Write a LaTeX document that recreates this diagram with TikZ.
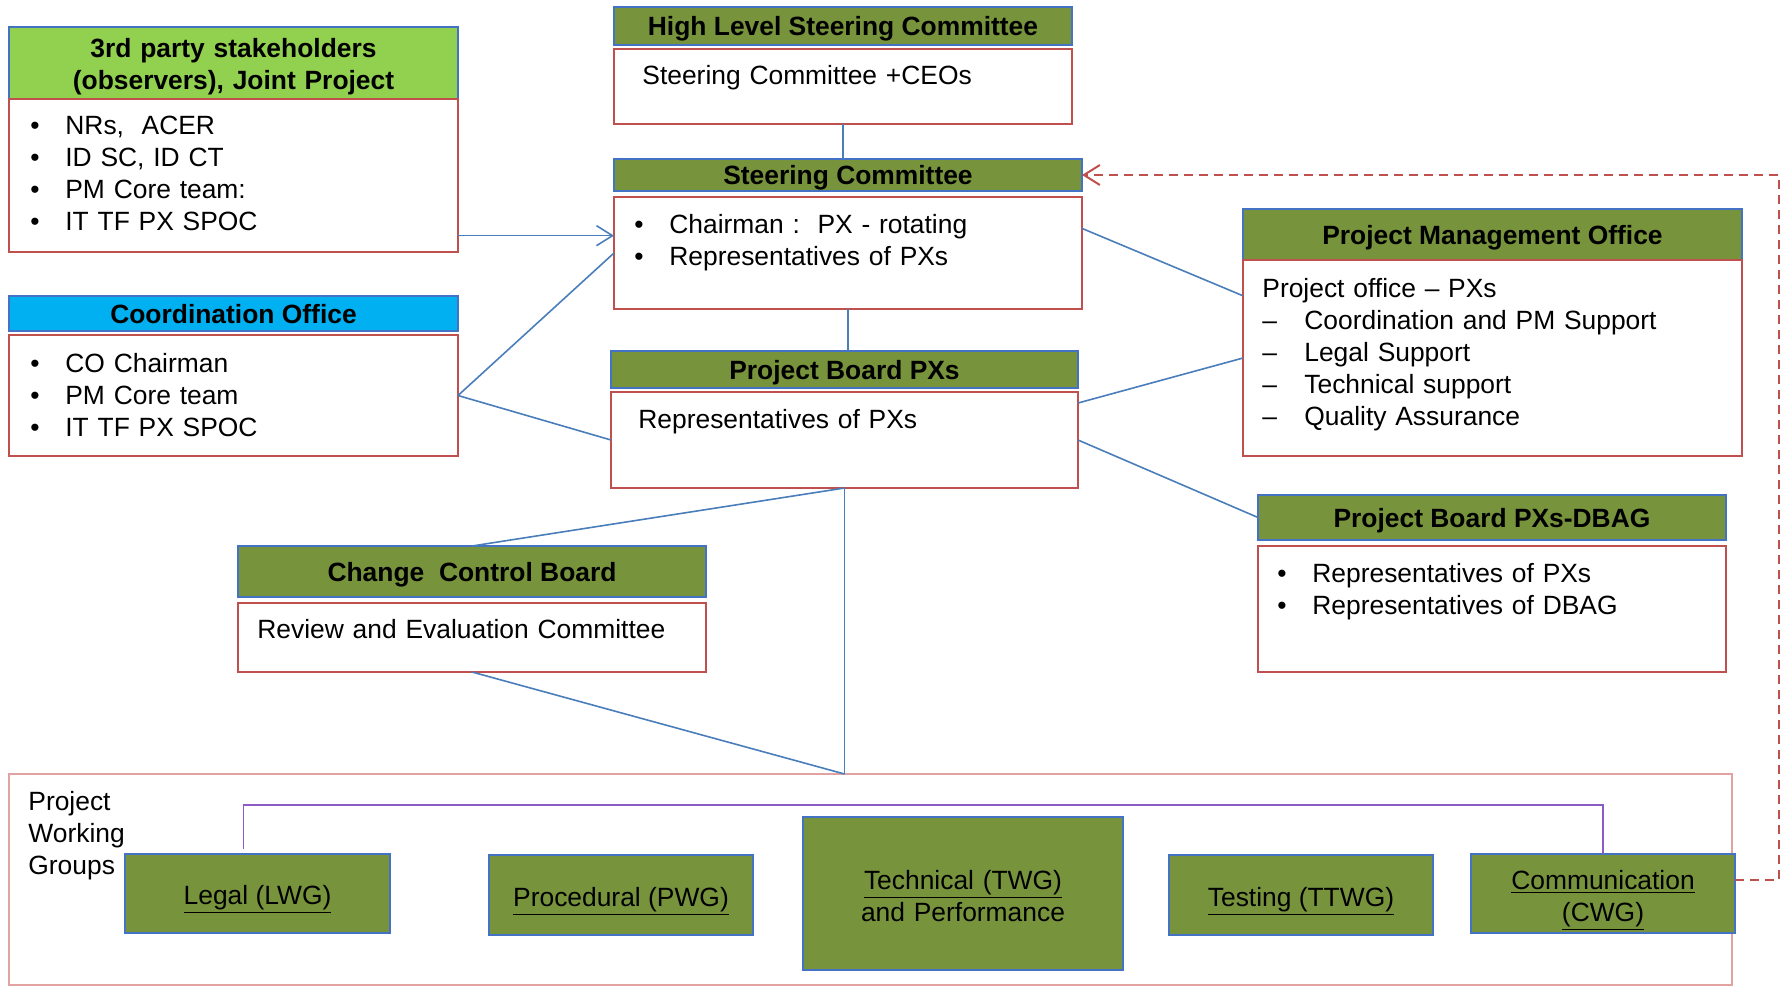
\documentclass[tikz,border=0pt]{standalone}
\usepackage{fontspec}
\setmainfont{Liberation Sans}
\usetikzlibrary{positioning,arrows.meta}
\definecolor{hdgreen}{HTML}{77933C}
\definecolor{tpgreen}{HTML}{92D050}
\definecolor{cocyan}{HTML}{00B0F0}
\definecolor{hdblue}{HTML}{4472C4}
\definecolor{bdred}{HTML}{C0504D}
\definecolor{lnblue}{HTML}{4A7EBB}
\definecolor{wgpink}{HTML}{E3A2A2}
\definecolor{wgpurple}{HTML}{8B5CC4}
\newcommand{\bodyfont}{\fontsize{13.2}{16.1}\selectfont}
\newcommand{\bul}{\makebox[17.5pt][l]{\textbullet}}
\newcommand{\dsh}{\makebox[21pt][l]{--}}
\begin{document}
\begin{tikzpicture}[x=0.5pt,y=-0.5pt,node distance=0pt,every node/.style={font=\bodyfont}]
\tikzstyle{hdr}=[draw=hdblue,line width=1pt,fill=hdgreen,anchor=north west,inner sep=0pt,outer sep=0pt,align=center,text height=10pt,text depth=0.5pt,font=\bodyfont\bfseries]
\tikzstyle{box}=[draw=bdred,line width=1pt,inner sep=0pt,outer sep=0pt]
\tikzstyle{txt}=[anchor=base west,inner sep=0pt,text width=240pt,align=left]
\tikzstyle{wgbox}=[draw=hdblue,line width=1pt,fill=hdgreen,anchor=north west,inner sep=0pt,outer sep=0pt,align=center,text height=11pt,text depth=0pt]
\tikzstyle{twoline}=[text width=150pt,text height=10pt,text depth=14.5pt]
\tikzstyle{link}=[lnblue,line width=0.8pt]
\tikzstyle{fbk}=[bdred,line width=1pt,dash pattern=on 4.5pt off 3pt]
\useasboundingbox (0,0) rectangle (1783,986);
\node[hdr,fill=tpgreen,minimum width=224.5pt,minimum height=36pt,text width=220pt,text height=10pt,text depth=15.5pt] (tph) at (9,27) {3rd party stakeholders\\(observers), Joint Project};
\node[box,minimum width=224.5pt,minimum height=76.5pt,below=of tph] (tpb) {};
\node[hdr,fill=cocyan,minimum width=224.5pt,minimum height=17.5pt] (coh) at (9,296) {Coordination Office};
\node[box,minimum width=224.5pt,minimum height=60.5pt,below=2pt of coh] (cob) {};
\node[hdr,minimum width=229pt,minimum height=19pt] (hlh) at (614,7) {High Level Steering Committee};
\node[box,minimum width=229pt,minimum height=37.5pt,below=2pt of hlh] (hlb) {};
\node[hdr,minimum width=234pt,minimum height=16pt] (sch) at (614,159) {Steering Committee};
\node[box,minimum width=234pt,minimum height=56pt,below=3pt of sch] (scb) {};
\node[hdr,minimum width=233.5pt,minimum height=18.5pt] (pbh) at (611,351) {Project Board PXs};
\node[box,minimum width=233.5pt,minimum height=48pt,below=2pt of pbh] (pbb) {};
\node[hdr,minimum width=249.5pt,minimum height=25.5pt] (pmh) at (1243,209) {Project Management Office};
\node[box,minimum width=249.5pt,minimum height=98pt,below=of pmh] (pmb) {};
\node[hdr,minimum width=234pt,minimum height=22.5pt] (dbh) at (1258,495) {Project Board PXs-DBAG};
\node[box,minimum width=234pt,minimum height=63pt,below=3pt of dbh] (dbb) {};
\node[hdr,minimum width=234pt,minimum height=25.5pt] (cch) at (238,546) {Change~~Control Board};
\node[box,minimum width=234pt,minimum height=34.5pt,below=3pt of cch] (ccb) {};
\node[txt] (tpt) at (30,134) {\bul NRs,~~ACER\\\bul ID SC, ID CT\\\bul PM Core team:\\\bul IT TF PX SPOC};
\node[txt] (cot) at (30,372) {\bul CO Chairman\\\bul PM Core team\\\bul IT TF PX SPOC};
\node[txt] (hlt) at (642,84) {Steering Committee +CEOs};
\node[txt] (sct) at (634,233) {\bul Chairman :~~PX - rotating\\\bul Representatives of PXs};
\node[txt] (pbt) at (638,428) {Representatives of PXs};
\node[txt] (pmt) at (1262,297) {Project office -- PXs\\\dsh Coordination and PM Support\\\dsh Legal Support\\\dsh Technical support\\\dsh Quality Assurance};
\node[txt] (dbt) at (1277,582) {\bul Representatives of PXs\\\bul Representatives of DBAG};
\node[txt] (cct) at (257,638) {Review and Evaluation Committee};
\node[draw=wgpink,line width=0.75pt,anchor=north west,inner sep=0pt,outer sep=0pt,minimum width=861.5pt,minimum height=105.5pt] (wg) at (9,774) {};
\node[txt] (wgt) at (28,810) {Project\\Working\\Groups};
\node[wgbox,minimum width=132.5pt,minimum height=39.5pt] (lwg) at (125,854) {\underline{Legal (LWG)}};
\node[wgbox,minimum width=132pt,minimum height=40pt] (pwg) at (489,855) {\underline{Procedural (PWG)}};
\node[wgbox,twoline,minimum width=160pt,minimum height=76.5pt] (twg) at (803,817) {\underline{Technical (TWG)}\\and Performance};
\node[wgbox,minimum width=132pt,minimum height=40pt] (ttwg) at (1169,855) {\underline{Testing (TTWG)}};
\node[wgbox,twoline,text width=130pt,minimum width=132pt,minimum height=39.5pt] (cwg) at (1471,854) {\underline{Communication}\\\underline{(CWG)}};
\coordinate (j) at (pbb.south |- wg.north);
\coordinate (ret) at (1779,175);
\draw[link] (hlb.south) -- (hlb.south |- sch.north);
\draw[link] (scb.south) -- (scb.south |- pbh.north);
\draw[link,-{Straight Barb[length=8pt,width=10pt]}] (tpb.345) -- (tpb.345 -| scb.west);
\draw[link] (cob.east) -- (scb.west);
\draw[link] (cob.east) -- (pbb.west);
\draw[link] (scb.6) -- (pmb.166);
\draw[link] (pbb.9) -- (pmb.west);
\draw[link] (pbb.east) -- (dbh.west);
\draw[link] (pbb.south) -- (cch.north);
\draw[link] (pbb.south) -- (j);
\draw[link] (ccb.south) -- (j);
\draw[wgpurple,line width=0.8pt] ([xshift=-7pt,yshift=2.5pt]lwg.north) -- ++(0,-44) -| (cwg.north);
\draw[fbk,-{Straight Barb[length=8pt,width=10pt]}] (cwg.6) -| (ret) -- (sch.east);
\end{tikzpicture}
\end{document}
